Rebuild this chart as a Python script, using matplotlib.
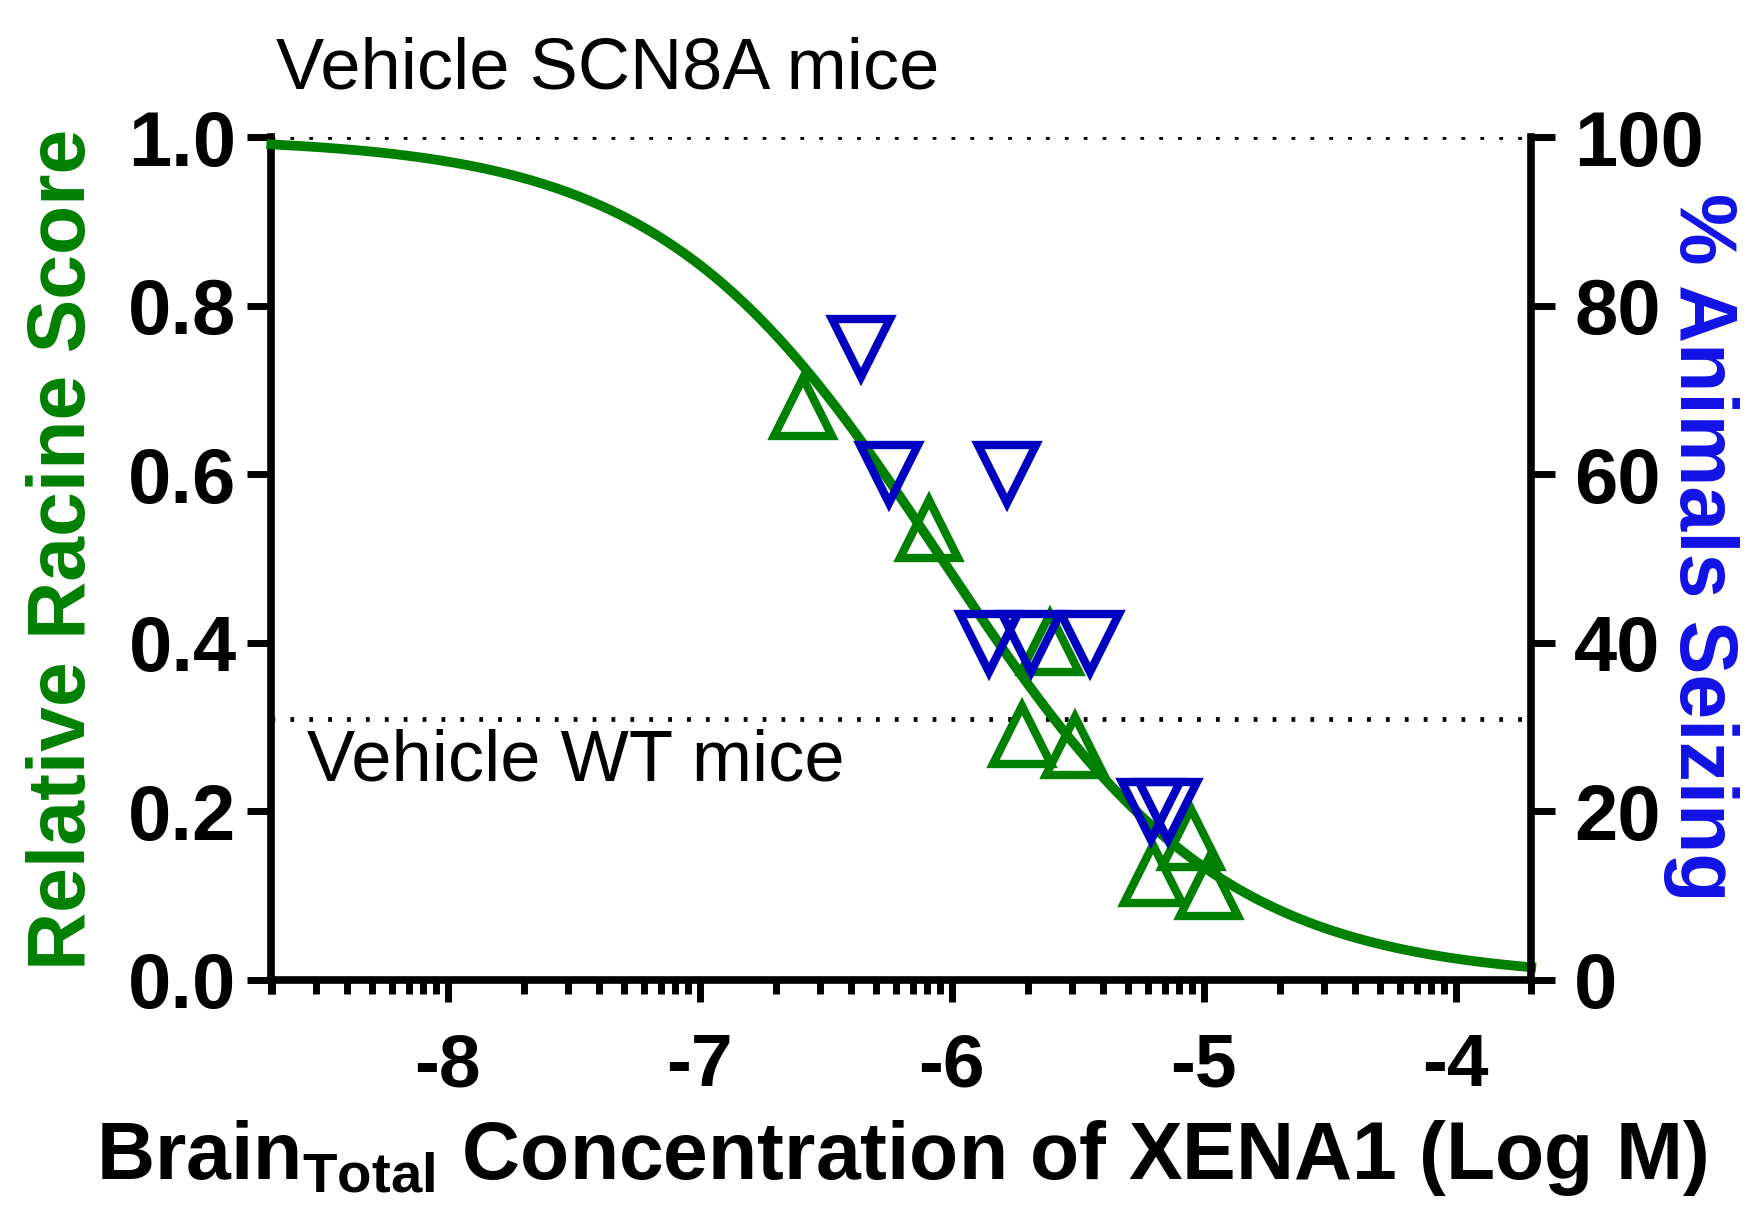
import numpy as np
import matplotlib
matplotlib.use("Agg")
import matplotlib.pyplot as plt
from matplotlib.ticker import FixedLocator

# data
racine_x = [-6.59, -6.09, -5.61, -5.72, -5.51, -5.20, -5.05, -4.98]
racine_y = [0.68, 0.535, 0.40, 0.29, 0.278, 0.126, 0.168, 0.11]

seizing_x = [-6.36, -6.25, -5.78, -5.85, -5.685, -5.45, -5.21, -5.14]
seizing_y = [75, 60, 60, 40, 40, 40, 20, 20]

# fitted dose-response curve parameters
fit_top = 1.0
fit_bottom = 0.0
fit_log_ic50 = -6.04
fit_hill = 0.78

scn8a_level = 1.0
wt_level = 0.31

x_ticks = [-8, -7, -6, -5, -4]
x_ticklabels = ["-8", "-7", "-6", "-5", "-4"]
left_ticks = [0.0, 0.2, 0.4, 0.6, 0.8, 1.0]
right_ticks = [0, 20, 40, 60, 80, 100]

plt.rcParams['font.family'] = ['Liberation Sans', 'DejaVu Sans']
plt.rcParams['mathtext.fontset'] = 'custom'
plt.rcParams['mathtext.rm'] = 'Liberation Sans:bold'

GREEN = '#008000'
BLUE = '#0000C0'

fig = plt.figure(figsize=(17.5, 12.05), dpi=100)
ax = fig.add_axes([0.155, 0.187, 0.72, 0.699])
ax2 = ax.twinx()

xmin, xmax = -8.7, -3.7
xs = np.linspace(xmin, xmax, 400)
curve = fit_bottom + (fit_top - fit_bottom) / (1 + 10 ** ((xs - fit_log_ic50) * fit_hill))

# dotted reference levels for the vehicle groups
dot = (0, (0.8, 3.2))
ax.plot([xmin, xmax], [scn8a_level, scn8a_level], color='black', lw=3.4, linestyle=dot, zorder=1)
ax.plot([xmin, xmax], [wt_level, wt_level], color='black', lw=3.4, linestyle=dot, zorder=1)

ax.plot(xs, curve, color=GREEN, lw=7, zorder=3, clip_on=False)
ax.plot(racine_x, racine_y, linestyle='none', marker='^', ms=42, mfc='none',
        mec=GREEN, mew=6, zorder=4, clip_on=False)
ax2.plot(seizing_x, seizing_y, linestyle='none', marker='v', ms=42, mfc='none',
         mec=BLUE, mew=6, zorder=4, clip_on=False)

ax.set_xlim(xmin, xmax)
ax.set_ylim(0, 1.0)
ax2.set_ylim(0, 100)

for a in (ax, ax2):
    a.spines['top'].set_visible(False)
    for s in a.spines.values():
        s.set_linewidth(5.5)
ax.spines['right'].set_visible(False)
ax2.spines['left'].set_visible(False)
ax2.spines['bottom'].set_visible(False)

ax.set_xticks(x_ticks)
ax.set_xticklabels(x_ticklabels)
minor = [d + np.log10(k) for d in range(-9, -3) for k in range(2, 10)]
minor = [m for m in minor if xmin <= m <= xmax] + [xmin, xmax]
ax.xaxis.set_minor_locator(FixedLocator(minor))
ax.tick_params(axis='x', which='major', direction='out', length=16, width=5,
               pad=22, labelsize=54)
ax.tick_params(axis='x', which='minor', direction='out', length=10, width=5)
for lab in ax.get_xticklabels():
    lab.set_fontweight('bold')

ax.set_yticks(left_ticks)
ax.set_yticklabels([f"{v:.1f}" for v in left_ticks])
ax.tick_params(axis='y', direction='out', length=17, width=5, pad=8, labelsize=56)
ax2.set_yticks(right_ticks)
ax2.set_yticklabels([str(v) for v in right_ticks])
ax2.tick_params(axis='y', direction='out', length=17, width=5, pad=14, labelsize=56)
for lab in ax.get_yticklabels() + ax2.get_yticklabels():
    lab.set_fontweight('bold')

fig.text(0.0365, 0.544, 'Relative Racine Score', color=GREEN, fontsize=58,
         fontweight='bold', rotation=90, ha='center', va='center')
fig.text(0.972, 0.546, '% Animals Seizing', color='#1212E6', fontsize=58,
         fontweight='bold', rotation=-90, ha='center', va='center')
ax.set_xlabel(r'Brain$_{\mathrm{Total}}$ Concentration of XENA1 (Log M)',
              fontsize=58, fontweight='bold', labelpad=12)

ax.text(-8.68, 1.08, 'Vehicle SCN8A mice', fontsize=52,
        ha='left', va='center', clip_on=False)
ax.text(-8.56, 0.258, 'Vehicle WT mice', fontsize=52,
        ha='left', va='center')

fig.savefig('out.png', dpi=100)
